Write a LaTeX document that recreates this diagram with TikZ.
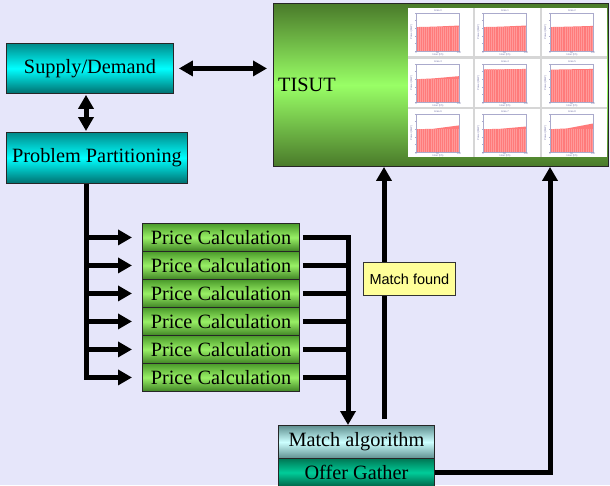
\documentclass[tikz,border=0pt]{standalone}
\usepackage{fontspec}
\setmainfont{Liberation Serif}
\newfontfamily\labelsans{Liberation Sans}
\usetikzlibrary{arrows.meta,calc}
\definecolor{bg}{HTML}{E6E6FA}
\definecolor{cyanedge}{HTML}{008A8A}
\definecolor{cyanmid}{HTML}{00FFFF}
\definecolor{tisutedge}{HTML}{4A7A2A}
\definecolor{tisutmid}{HTML}{99FF66}
\definecolor{pcedge}{HTML}{4A9A2A}
\definecolor{pcmid}{HTML}{99F066}
\definecolor{maedge}{HTML}{5F8F8F}
\definecolor{mamid}{HTML}{CCFFFF}
\definecolor{ogedge}{HTML}{007755}
\definecolor{ogmid}{HTML}{00CC99}
\definecolor{mfyellow}{HTML}{FFFF99}
\definecolor{chartframe}{HTML}{AAAACC}
\definecolor{chartbar}{HTML}{FF7A7A}
\definecolor{chartstripe}{HTML}{FF9A9A}
\definecolor{chartgap}{HTML}{D6D6D6}
\definecolor{charttext}{HTML}{7777AA}
\begin{document}
\begin{tikzpicture}[x=1pt,y=-1pt,
  box/.style={draw=black!85,line width=0.9pt,inner sep=0pt,anchor=north west,
    font=\fontsize{20.3}{24}\selectfont},
  cyanbox/.style={box,top color=cyanedge,bottom color=cyanedge!80!black,middle color=cyanmid},
  pcbox/.style={box,top color=pcedge,bottom color=pcedge!85!black,middle color=pcmid,
    minimum width=157pt,minimum height=28pt},
  conn/.style={line width=5pt,draw=black},
  tip/.style={-{Triangle[length=14pt,width=15pt]}},
  dtip/.style={{Triangle[length=14pt,width=15pt]}-{Triangle[length=14pt,width=15pt]}},
  tiny/.style={font=\labelsans\fontsize{2.6}{3}\selectfont,text=charttext,inner sep=0pt}
]
\clip (0,0) rectangle (610,485);
\fill[bg] (0,0) rectangle (610,485);

% main boxes
\node[cyanbox,minimum width=167pt,minimum height=50pt] (sd) at (6,43) {Supply/Demand};
\node[cyanbox,minimum width=181pt,minimum height=51pt] (pp) at (6,132) {Problem Partitioning};
\node[box,top color=tisutedge,bottom color=tisutedge,middle color=tisutmid,
  minimum width=335pt,minimum height=163pt] (tisut) at (273,3) {};
\node[anchor=west,inner sep=0pt,font=\fontsize{20.3}{24}\selectfont] (tisutlabel) at (278,85) {TISUT};

% chart panel
\fill[chartgap] (408,8) rectangle (607,157);
\foreach \i/\cx/\cy/\a/\b/\c in {0/408/8/.63/.64/.67, 1/475/8/.63/.64/.67, 2/542/8/.63/.64/.66,
    3/408/59/.60/.62/.68, 4/475/59/.86/.86/.87, 5/542/59/.85/.86/.87,
    6/408/109/.60/.61/.70, 7/475/109/.60/.61/.67, 8/542/109/.60/.62/.75}{
  \fill[white] (\cx,\cy) rectangle ({\cx+65},{\cy+48});
  \fill[chartbar] ({\cx+8},{\cy+43}) -- ({\cx+8},{\cy+43-\a*38}) -- ({\cx+25},{\cy+43-\b*38})
    -- ({\cx+51},{\cy+43-\c*38}) -- ({\cx+51},{\cy+43}) -- cycle;
  \foreach \k in {1,...,20}{
    \draw[chartstripe,line width=0.3pt] ({\cx+8+\k*2.1},{\cy+42.5}) -- ({\cx+8+\k*2.1},{\cy+43-\a*38});
  }
  \draw[chartframe,line width=0.6pt] ({\cx+8},{\cy+5}) rectangle ({\cx+51},{\cy+43});
  \foreach \t in {0,...,5}{
    \draw[chartframe,line width=0.4pt] ({\cx+8},{\cy+43-\t*7.6}) -- ({\cx+6.8},{\cy+43-\t*7.6});
  }
  \node[tiny] at ({\cx+30},{\cy+2.5}) {Area \i};
  \node[tiny] at ({\cx+8},{\cy+45}) {0};
  \node[tiny] at ({\cx+29.5},{\cy+45}) {50};
  \node[tiny] at ({\cx+51},{\cy+45}) {100};
  \node[tiny] at ({\cx+30},{\cy+47}) {Hour (hh)};
  \node[tiny,rotate=90] at ({\cx+3.5},{\cy+24}) {Power (MW)};
}

% price calculation boxes
\foreach \i in {1,...,6}{
  \node[pcbox] (pc\i) at (142,{223+28*(\i-1)}) {Price Calculation};
}

\node[box,top color=maedge,bottom color=maedge,middle color=mamid,
  minimum width=156pt,minimum height=33pt] (ma) at (278,425) {Match algorithm};
\node[box,top color=ogedge,bottom color=ogedge!85!black,middle color=ogmid,
  minimum width=156pt,minimum height=28pt] (og) at (278,458) {Offer Gather};

% helper coordinates
\coordinate (lbus) at (86,0);
\coordinate (rbus) at (348,0);
\coordinate (mline) at (384,0);
\coordinate (oline) at (550,0);

% connectors
\draw[conn,dtip] ([xshift=5pt]sd.east) -- ([xshift=-6pt]tisut.west |- sd.east);
\draw[conn,dtip] ([yshift=-1pt]sd.south -| lbus) -- ([yshift=1pt]pp.north -| lbus);

\draw[conn,tip,shorten >=10pt] (pp.south -| lbus) -- (pc6.west -| lbus) -- (pc6.west);
\foreach \i in {1,...,5}{
  \draw[conn,tip,shorten >=10pt] (pc\i.west -| lbus) -- (pc\i.west);
}

\draw[conn,tip] ([xshift=3pt]pc1.east) -- (pc1.east -| rbus) -- (ma.north -| rbus);
\foreach \i in {2,...,6}{
  \draw[conn] ([xshift=3pt]pc\i.east) -- (pc\i.east -| rbus);
}

\draw[conn,tip] ($(ma.north -| mline)+(0,-6)$) -- (tisut.south -| mline);
\draw[conn,tip] (og.east) -- (og.east -| oline) -- (tisut.south -| oline);

\node[draw=black!80,line width=0.8pt,fill=mfyellow,inner sep=0pt,anchor=north west,
  minimum width=92pt,minimum height=33pt,font=\labelsans\fontsize{14.5}{17}\selectfont] (mf) at (363,262) {Match found};
\end{tikzpicture}
\end{document}
